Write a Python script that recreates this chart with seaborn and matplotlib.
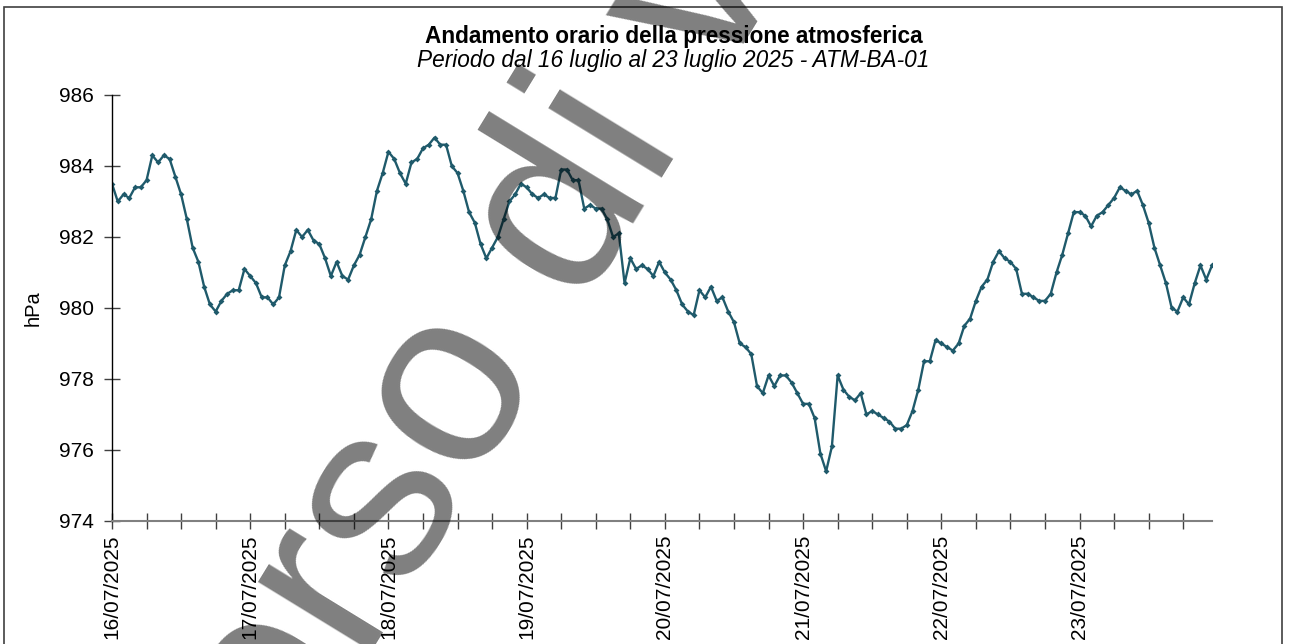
import pandas as pd
import numpy as np
import matplotlib
matplotlib.use("Agg")
import matplotlib.pyplot as plt
import matplotlib.dates as mdates
from matplotlib.patches import Rectangle
import seaborn as sns

# ===============================
# Data: hourly pressure, 16/07/2025 00:00 -> 23/07/2025 23:00
# ===============================
start = "2025-07-16 00:00"
day_16 = [983.5, 983.0, 983.2, 983.1, 983.4, 983.4, 983.6, 984.3, 984.1, 984.3, 984.2, 983.7,
          983.2, 982.5, 981.7, 981.3, 980.6, 980.1, 979.9, 980.2, 980.4, 980.5, 980.5, 981.1]
day_17 = [980.9, 980.7, 980.3, 980.3, 980.1, 980.3, 981.2, 981.6, 982.2, 982.0, 982.2, 981.9,
          981.8, 981.4, 980.9, 981.3, 980.9, 980.8, 981.2, 981.5, 982.0, 982.5, 983.3, 983.8]
day_18 = [984.4, 984.2, 983.8, 983.5, 984.1, 984.2, 984.5, 984.6, 984.8, 984.6, 984.6, 984.0,
          983.8, 983.3, 982.7, 982.4, 981.8, 981.4, 981.7, 982.0, 982.5, 983.0, 983.2, 983.5]
day_19 = [983.4, 983.2, 983.1, 983.2, 983.1, 983.1, 983.9, 983.9, 983.6, 983.6, 982.8, 982.9,
          982.8, 982.8, 982.5, 982.0, 982.1, 980.7, 981.4, 981.1, 981.2, 981.1, 980.9, 981.3]
day_20 = [981.0, 980.8, 980.5, 980.1, 979.9, 979.8, 980.5, 980.3, 980.6, 980.2, 980.3, 979.9,
          979.6, 979.0, 978.9, 978.7, 977.8, 977.6, 978.1, 977.8, 978.1, 978.1, 977.9, 977.6]
day_21 = [977.3, 977.3, 976.9, 975.9, 975.4, 976.1, 978.1, 977.7, 977.5, 977.4, 977.6, 977.0,
          977.1, 977.0, 976.9, 976.8, 976.6, 976.6, 976.7, 977.1, 977.7, 978.5, 978.5, 979.1]
day_22 = [979.0, 978.9, 978.8, 979.0, 979.5, 979.7, 980.2, 980.6, 980.8, 981.3, 981.6, 981.4,
          981.3, 981.1, 980.4, 980.4, 980.3, 980.2, 980.2, 980.4, 981.0, 981.5, 982.1, 982.7]
day_23 = [982.7, 982.6, 982.3, 982.6, 982.7, 982.9, 983.1, 983.4, 983.3, 983.2, 983.3, 982.9,
          982.4, 981.7, 981.2, 980.7, 980.0, 979.9, 980.3, 980.1, 980.7, 981.2, 980.8, 981.2]

pressure = day_16 + day_17 + day_18 + day_19 + day_20 + day_21 + day_22 + day_23
times = pd.date_range(start, periods=len(pressure), freq="h")
df = pd.DataFrame({"time": times, "hPa": pressure})

title = "Andamento orario della pressione atmosferica"
subtitle = "Periodo dal 16 luglio al 23 luglio 2025 - ATM-BA-01"
watermark = "Corso di v"

# ===============================
# Plot
# ===============================
sns.set_theme(style="white")
plt.rcParams["font.family"] = ["Liberation Sans", "DejaVu Sans"]
plt.rcParams["text.color"] = "black"
plt.rcParams["axes.labelcolor"] = "black"
plt.rcParams["xtick.color"] = "black"
plt.rcParams["ytick.color"] = "black"

fig = plt.figure(figsize=(12.9, 6.44), dpi=100)
ax = fig.add_axes([112 / 1290, 1 - 521 / 644, 1100 / 1290, 426 / 644])

sns.lineplot(data=df, x="time", y="hPa", ax=ax, color="#1F5A6B", linewidth=1.7,
             marker="D", markersize=3, markeredgewidth=0)

ax.set_ylim(974, 986)
ax.set_yticks(np.arange(974, 987, 2))
ax.set_xlim(times[0], times[-1])
ax.xaxis.set_major_locator(mdates.DayLocator())
ax.xaxis.set_major_formatter(mdates.DateFormatter("%d/%m/%Y"))
ax.xaxis.set_minor_locator(mdates.HourLocator(byhour=[0, 6, 12, 18]))

ax.set_xlabel("")
ax.set_ylabel("hPa", fontsize=14.5, labelpad=12)

for s in ["top", "right"]:
    ax.spines[s].set_visible(False)
ax.spines["left"].set_color("black")
ax.spines["left"].set_linewidth(1.0)
ax.spines["bottom"].set_color("#808080")
ax.spines["bottom"].set_linewidth(1.5)

ax.tick_params(axis="y", which="major", direction="inout", length=12, width=1,
               color="#404040", labelsize=15, pad=7, left=True)
ax.tick_params(axis="x", which="both", direction="inout", length=12, width=1,
               color="#404040", labelsize=15, pad=4, bottom=True)
plt.setp(ax.get_xticklabels(), rotation=90)

fig.text(0.522, 1 - 37 / 644, title, ha="center", va="center",
         fontsize=16.3, fontweight="bold")
fig.text(0.522, 1 - 61 / 644, subtitle, ha="center", va="center",
         fontsize=16.3, style="italic")

# outer chart border (cut at the bottom of the picture)
fig.patches.append(Rectangle((4 / 1290, -0.2), 1278 / 1290, 1.2 - 7 / 644,
                             transform=fig.transFigure, fill=False,
                             edgecolor="#404040", linewidth=1.2))

# watermark on top
fig.text(196 / 1290, 1 - 938 / 644, watermark, rotation=58.5, rotation_mode="anchor",
         ha="left", va="baseline", fontsize=180, color="black", alpha=0.5, zorder=10)

fig.savefig("out.png", dpi=100)
